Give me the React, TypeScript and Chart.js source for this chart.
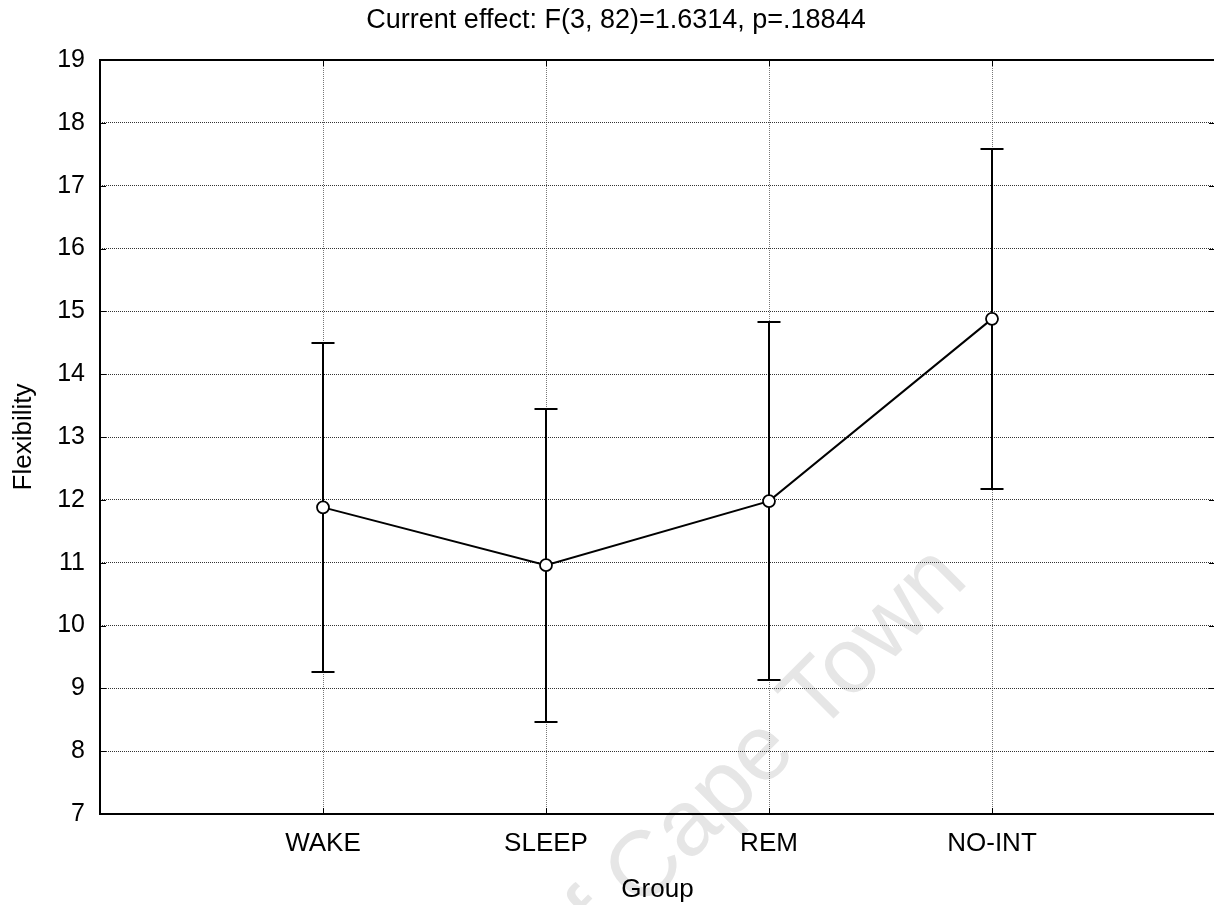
import { useEffect, useRef } from 'react';
import { Chart, registerables } from 'chart.js';

Chart.register(...registerables);

// Group means with their interval limits (vertical bars)
const groups = ['WAKE', 'SLEEP', 'REM', 'NO-INT'];
const means = [11.88, 10.96, 11.98, 14.88];
const upperLimits = [14.49, 13.45, 14.83, 17.58];
const lowerLimits = [9.26, 8.46, 9.14, 12.17];

// Axis ranges
const yMin = 7;
const yMax = 19;
const yStep = 1;
const xMin = 0;
const xMax = groups.length + 1;

const titleText = 'Current effect: F(3, 82)=1.6314, p=.18844';
const xTitle = 'Group';
const yTitle = 'Flexibility';
const watermarkText = 'University of Cape Town';

const FONT = '"Liberation Sans", Arial, Helvetica, sans-serif';

// Faint diagonal watermark behind the plot
const watermarkPlugin = {
  id: 'watermark',
  beforeDraw(chart: any) {
    const { ctx } = chart;
    ctx.save();
    ctx.translate(970, 582);
    ctx.rotate(-Math.PI / 4);
    ctx.font = `93px ${FONT}`;
    ctx.fillStyle = '#e6e6e6';
    ctx.textAlign = 'right';
    ctx.textBaseline = 'alphabetic';
    ctx.fillText(watermarkText, 0, 0);
    ctx.restore();
  },
};

// Vertical interval bars with caps, drawn under the mean line
const errorBarPlugin = {
  id: 'errorBars',
  beforeDatasetsDraw(chart: any) {
    const { ctx, scales } = chart;
    const x = scales.x;
    const y = scales.y;
    ctx.save();
    ctx.strokeStyle = '#000';
    ctx.lineWidth = 2;
    groups.forEach((_, i) => {
      const px = Math.round(x.getPixelForValue(i + 1));
      const top = Math.round(y.getPixelForValue(upperLimits[i]));
      const bot = Math.round(y.getPixelForValue(lowerLimits[i]));
      ctx.beginPath();
      ctx.moveTo(px, top);
      ctx.lineTo(px, bot);
      ctx.moveTo(px - 11.5, top);
      ctx.lineTo(px + 11.5, top);
      ctx.moveTo(px - 11.5, bot);
      ctx.lineTo(px + 11.5, bot);
      ctx.stroke();
    });
    ctx.restore();
  },
};

// Box frame around the plot with short inward tick marks on all four sides
const framePlugin = {
  id: 'frame',
  afterDraw(chart: any) {
    const { ctx, chartArea, scales } = chart;
    const { left, right, top, bottom } = chartArea;
    const tick = 6;
    ctx.save();
    ctx.strokeStyle = '#000';
    ctx.lineWidth = 1;
    ctx.beginPath();
    scales.y.ticks.forEach((t: any) => {
      const py = Math.round(scales.y.getPixelForValue(t.value)) + 0.5;
      ctx.moveTo(left, py);
      ctx.lineTo(left + tick, py);
      ctx.moveTo(right, py);
      ctx.lineTo(right - tick, py);
    });
    scales.x.ticks.forEach((t: any) => {
      const px = Math.round(scales.x.getPixelForValue(t.value)) + 0.5;
      ctx.moveTo(px, top);
      ctx.lineTo(px, top + tick);
      ctx.moveTo(px, bottom);
      ctx.lineTo(px, bottom - tick);
    });
    ctx.stroke();
    ctx.lineWidth = 2;
    ctx.strokeRect(Math.round(left), Math.round(top), Math.round(right - left), Math.round(bottom - top));
    ctx.restore();
  },
};

export default function App() {
  const canvasRef = useRef<HTMLCanvasElement | null>(null);

  useEffect(() => {
    const canvas = canvasRef.current;
    if (!canvas) return;
    const chart = new Chart(canvas, {
      type: 'line',
      data: {
        datasets: [
          {
            data: means.map((m, i) => ({ x: i + 1, y: m })),
            borderColor: '#000',
            borderWidth: 2,
            tension: 0,
            pointRadius: 6,
            pointBackgroundColor: '#fff',
            pointBorderColor: '#000',
            pointBorderWidth: 1.8,
            clip: false as any,
          },
        ],
      },
      options: {
        animation: false,
        responsive: false,
        devicePixelRatio: 1,
        layout: { padding: 0 },
        plugins: {
          legend: { display: false },
          tooltip: { enabled: false },
          title: {
            display: true,
            text: titleText,
            color: '#000',
            font: { family: FONT, size: 27, weight: 'normal' },
            padding: { top: 4, bottom: 23.6 },
          },
        },
        scales: {
          x: {
            type: 'linear',
            position: 'bottom',
            min: xMin,
            max: xMax,
            afterBuildTicks: (scale: any) => {
              scale.ticks = groups.map((_, i) => ({ value: i + 1 }));
            },
            afterFit: (scale: any) => {
              scale.height = 91;
            },
            ticks: {
              color: '#000',
              font: { family: FONT, size: 26 },
              padding: 14,
              maxRotation: 0,
              autoSkip: false,
              callback: (v: any) => groups[Number(v) - 1] ?? '',
            },
            grid: {
              color: '#777',
              lineWidth: 1,
              drawTicks: false,
              tickLength: 0,
            },
            border: { display: false, dash: [1, 1] },
            title: {
              display: true,
              text: xTitle,
              color: '#000',
              font: { family: FONT, size: 26 },
              padding: { top: 0, bottom: 0 },
            },
          },
          y: {
            type: 'linear',
            position: 'left',
            min: yMin,
            max: yMax,
            afterFit: (scale: any) => {
              scale.width = 100;
            },
            ticks: {
              stepSize: yStep,
              color: '#000',
              font: { family: FONT, size: 25 },
              padding: 15,
            },
            grid: {
              color: '#333',
              lineWidth: 1,
              drawTicks: false,
              tickLength: 0,
            },
            border: { display: false, dash: [1, 1] },
            title: {
              display: true,
              text: yTitle,
              color: '#000',
              font: { family: FONT, size: 26 },
              padding: { top: 8, bottom: 0 },
            },
          },
          yRight: {
            type: 'linear',
            position: 'right',
            min: yMin,
            max: yMax,
            display: true,
            afterFit: (scale: any) => {
              scale.width = 17;
            },
            ticks: { display: false },
            grid: { display: false, drawTicks: false },
            border: { display: false },
          },
        },
      } as any,
      plugins: [watermarkPlugin, errorBarPlugin, framePlugin],
    });
    return () => chart.destroy();
  }, []);

  return (
    <div
      style={{
        position: 'absolute',
        left: 0,
        top: 0,
        width: 1214,
        height: 905,
        overflow: 'hidden',
        background: '#fff',
      }}
    >
      <canvas ref={canvasRef} width={1232} height={905} style={{ display: 'block' }} />
    </div>
  );
}
